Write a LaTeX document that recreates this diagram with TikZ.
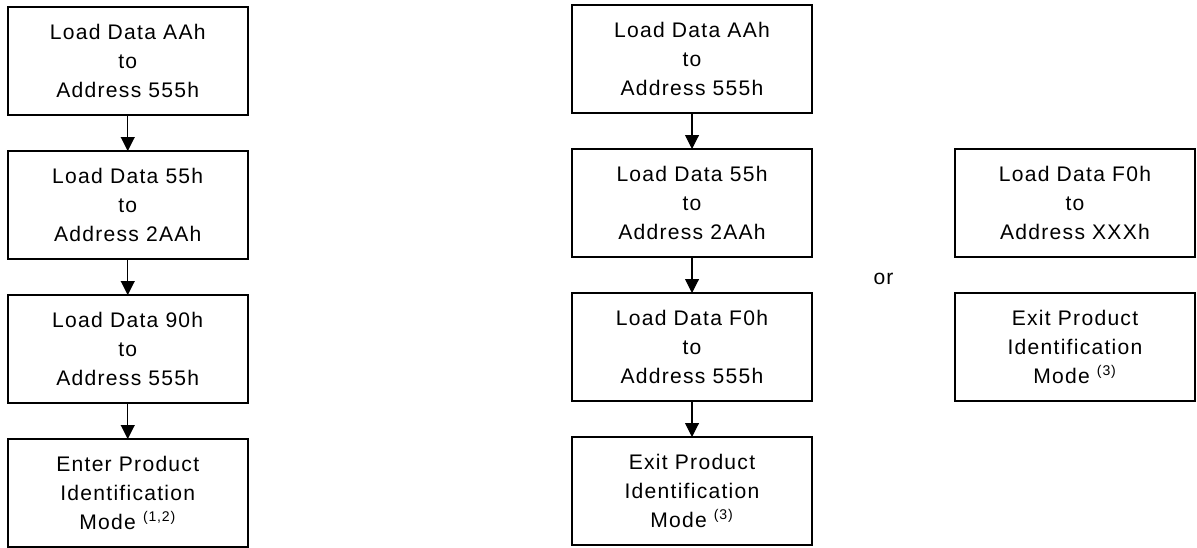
\documentclass[tikz,border=0pt]{standalone}
\usepackage{fontspec}
\setmainfont{Liberation Sans}[LetterSpace=6]
\usetikzlibrary{positioning,arrows.meta,calc}

\begin{document}
\begin{tikzpicture}[
    stepbox/.style={draw=black,line width=1.1pt,minimum width=4.8cm,
      minimum height=2.16cm,inner sep=0pt,outer sep=0pt,align=center,
      font=\fontsize{12pt}{16.5pt}\selectfont},
    flow/.style={-{Triangle[width=0.28cm,length=0.28cm]},line width=0.6pt}
  ]

    \useasboundingbox (0,0) rectangle (23.94,-10.94);

    % entering the mode
    \node[stepbox] (enter1) at (2.555,-1.22) {Load Data AAh\\to\\Address 555h};
    \node[stepbox,below=0.72cm of enter1] (enter2) {Load Data 55h\\to\\Address 2AAh};
    \node[stepbox,below=0.72cm of enter2] (enter3) {Load Data 90h\\to\\Address 555h};
    \node[stepbox,below=0.72cm of enter3] (enter4)
      {Enter Product\\Identification\\Mode \textsuperscript{(1,2)}};

    \draw[flow] (enter1) -- (enter2);
    \draw[flow] (enter2) -- (enter3);
    \draw[flow] (enter3) -- (enter4);

    % leaving the mode
    \node[stepbox] (exit1) at (13.84,-1.18) {Load Data AAh\\to\\Address 555h};
    \node[stepbox,below=0.72cm of exit1] (exit2) {Load Data 55h\\to\\Address 2AAh};
    \node[stepbox,below=0.72cm of exit2] (exit3) {Load Data F0h\\to\\Address 555h};
    \node[stepbox,below=0.72cm of exit3] (exit4)
      {Exit Product\\Identification\\Mode \textsuperscript{(3)}};

    \draw[flow] (exit1) -- (exit2);
    \draw[flow] (exit2) -- (exit3);
    \draw[flow] (exit3) -- (exit4);

    % short way out
    \node[stepbox,right=2.86cm of exit2] (alt1) {Load Data F0h\\to\\Address XXXh};
    \node[stepbox,below=0.72cm of alt1] (alt2)
      {Exit Product\\Identification\\Mode \textsuperscript{(3)}};

    \node[font=\fontsize{12pt}{16.5pt}\selectfont,yshift=-0.08cm] (orword)
      at ($(exit2.south east)!0.5!(alt2.north west)$) {or};

  \end{tikzpicture}
\end{document}
